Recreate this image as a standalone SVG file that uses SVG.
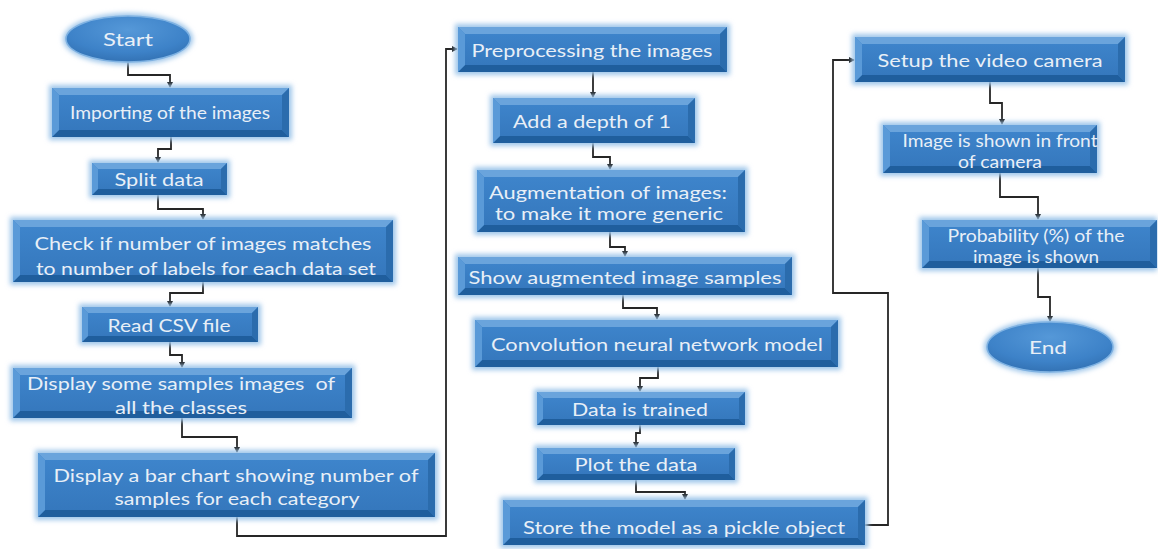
<svg xmlns="http://www.w3.org/2000/svg" width="1158" height="549" viewBox="0 0 1158 549">
<defs>
<style>
.glow{fill:#9fc6ea;filter:url(#blur)}
.face{fill:url(#gface)}
.bt{fill:#6aa4dc}
.bb{fill:#1f5e9d}
.bl{fill:#5a9ad8}
.br{fill:#2b6cad}
.ell{fill:url(#gell);stroke:#7fb2e2;stroke-width:1.5}
.t{font-family:Lato,"Open Sans","Liberation Sans",sans-serif;fill:#e8eff7;text-anchor:middle;font-size:18px}
.conn path{fill:none;stroke:#262626;stroke-width:1.8}
</style>
<filter id="blur" x="-20%" y="-30%" width="140%" height="160%"><feGaussianBlur stdDeviation="2.5"/></filter>
<linearGradient id="gface" x1="0" y1="0" x2="0" y2="1"><stop offset="0" stop-color="#3f86cd"/><stop offset="1" stop-color="#3476bb"/></linearGradient>
<radialGradient id="gell" cx="0.5" cy="0.3" r="0.7"><stop offset="0" stop-color="#5598d8"/><stop offset="0.7" stop-color="#3d82c8"/><stop offset="1" stop-color="#3372b4"/></radialGradient>
<marker id="arr" markerWidth="6" markerHeight="6" refX="5" refY="3" orient="auto" markerUnits="userSpaceOnUse"><path d="M0,0 L6,3 L0,6 z" fill="#1a1a1a"/></marker>
</defs>
<rect width="1158" height="549" fill="#ffffff"/>

<g class="conn" id="connectors">
<path d="M128,62 V75 H170 V87" marker-end="url(#arr)"/>
<path d="M171,137 V149 H158 V162" marker-end="url(#arr)"/>
<path d="M158,195 V209 H203 V219" marker-end="url(#arr)"/>
<path d="M203,282 V293 H170 V306" marker-end="url(#arr)"/>
<path d="M170,342 V355 H182 V367" marker-end="url(#arr)"/>
<path d="M182,418 V437 H237 V452" marker-end="url(#arr)"/>
<path d="M237,517 V536 H446 V49 H457" marker-end="url(#arr)"/>
<path d="M593,72 V97" marker-end="url(#arr)"/>
<path d="M593,143 V157 H610 V169" marker-end="url(#arr)"/>
<path d="M610,232 V247 H625 V256" marker-end="url(#arr)"/>
<path d="M623,295 V308 H657 V319" marker-end="url(#arr)"/>
<path d="M658,367 V378 H640 V391" marker-end="url(#arr)"/>
<path d="M640,425 V433 H636 V447" marker-end="url(#arr)"/>
<path d="M636,480 V492 H685 V499" marker-end="url(#arr)"/>
<path d="M865,525 H888 V293 H833 V60 H854" marker-end="url(#arr)"/>
<path d="M990,82 V103 H1002 V124" marker-end="url(#arr)"/>
<path d="M1000,173 V197 H1038 V219" marker-end="url(#arr)"/>
<path d="M1038,268 V297 H1050 V321" marker-end="url(#arr)"/>
</g>

<g id="start">
<ellipse class="glow" cx="128" cy="39" rx="65" ry="26"/>
<ellipse class="ell" cx="128" cy="39" rx="62" ry="23"/>
<text class="t" x="128" y="46" font-size="20" textLength="50" lengthAdjust="spacingAndGlyphs">Start</text>
</g>

<g id="import">
<rect class="glow" x="49" y="85" width="243" height="55"/>
<rect class="face" x="52" y="88" width="237" height="49"/>
<polygon class="bt" points="52,88 289,88 282,95 59,95"/>
<polygon class="bb" points="52,137 289,137 282,130 59,130"/>
<polygon class="bl" points="52,88 59,95 59,130 52,137"/>
<polygon class="br" points="289,88 282,95 282,130 289,137"/>
<text class="t" x="170" y="119" font-size="17" textLength="200" lengthAdjust="spacingAndGlyphs">Importing of the images</text>
</g>

<g id="split">
<rect class="glow" x="89" y="160" width="141" height="38"/>
<rect class="face" x="92" y="163" width="135" height="32"/>
<polygon class="bt" points="92,163 227,163 221,169 98,169"/>
<polygon class="bb" points="92,195 227,195 221,189 98,189"/>
<polygon class="bl" points="92,163 98,169 98,189 92,195"/>
<polygon class="br" points="227,163 221,169 221,189 227,195"/>
<text class="t" x="159" y="186" font-size="19" textLength="89" lengthAdjust="spacingAndGlyphs">Split data</text>
</g>

<g id="check">
<rect class="glow" x="10" y="217" width="386" height="68"/>
<rect class="face" x="13" y="220" width="380" height="62"/>
<polygon class="bt" points="13,220 393,220 386,227 20,227"/>
<polygon class="bb" points="13,282 393,282 386,275 20,275"/>
<polygon class="bl" points="13,220 20,227 20,275 13,282"/>
<polygon class="br" points="393,220 386,227 386,275 393,282"/>
<text class="t" x="203" y="250" font-size="20" textLength="337" lengthAdjust="spacingAndGlyphs">Check if number of images matches</text>
<text class="t" x="206" y="275" font-size="20" textLength="340" lengthAdjust="spacingAndGlyphs">to number of labels for each data set</text>
</g>

<g id="csv">
<rect class="glow" x="79" y="304" width="182" height="41"/>
<rect class="face" x="82" y="307" width="176" height="35"/>
<polygon class="bt" points="82,307 258,307 252,313 88,313"/>
<polygon class="bb" points="82,342 258,342 252,336 88,336"/>
<polygon class="bl" points="82,307 88,313 88,336 82,342"/>
<polygon class="br" points="258,307 252,313 252,336 258,342"/>
<text class="t" x="169" y="332" font-size="19" textLength="123" lengthAdjust="spacingAndGlyphs">Read CSV file</text>
</g>

<g id="samples">
<rect class="glow" x="10" y="365" width="345" height="56"/>
<rect class="face" x="13" y="368" width="339" height="50"/>
<polygon class="bt" points="13,368 352,368 345,375 20,375"/>
<polygon class="bb" points="13,418 352,418 345,411 20,411"/>
<polygon class="bl" points="13,368 20,375 20,411 13,418"/>
<polygon class="br" points="352,368 345,375 345,411 352,418"/>
<text class="t" x="181" y="390" font-size="19" textLength="308" lengthAdjust="spacingAndGlyphs" xml:space="preserve">Display some samples images  of</text>
<text class="t" x="181" y="414" font-size="19" textLength="132" lengthAdjust="spacingAndGlyphs">all the classes</text>
</g>

<g id="barchart">
<rect class="glow" x="35" y="450" width="403" height="70"/>
<rect class="face" x="38" y="453" width="397" height="64"/>
<polygon class="bt" points="38,453 435,453 428,460 45,460"/>
<polygon class="bb" points="38,517 435,517 428,510 45,510"/>
<polygon class="bl" points="38,453 45,460 45,510 38,517"/>
<polygon class="br" points="435,453 428,460 428,510 435,517"/>
<text class="t" x="236" y="482" font-size="20" textLength="365" lengthAdjust="spacingAndGlyphs">Display a bar chart showing number of</text>
<text class="t" x="237" y="505" font-size="20" textLength="245" lengthAdjust="spacingAndGlyphs">samples for each category</text>
</g>

<g id="preprocess">
<rect class="glow" x="455" y="24" width="275" height="51"/>
<rect class="face" x="458" y="27" width="269" height="45"/>
<polygon class="bt" points="458,27 727,27 720,34 465,34"/>
<polygon class="bb" points="458,72 727,72 720,65 465,65"/>
<polygon class="bl" points="458,27 465,34 465,65 458,72"/>
<polygon class="br" points="727,27 720,34 720,65 727,72"/>
<text class="t" x="592" y="57" font-size="20" textLength="241" lengthAdjust="spacingAndGlyphs">Preprocessing the images</text>
</g>

<g id="depth">
<rect class="glow" x="490" y="95" width="208" height="51"/>
<rect class="face" x="493" y="98" width="202" height="45"/>
<polygon class="bt" points="493,98 695,98 688,105 500,105"/>
<polygon class="bb" points="493,143 695,143 688,136 500,136"/>
<polygon class="bl" points="493,98 500,105 500,136 493,143"/>
<polygon class="br" points="695,98 688,105 688,136 695,143"/>
<text class="t" x="592" y="128" font-size="20" textLength="158" lengthAdjust="spacingAndGlyphs">Add a depth of 1</text>
</g>

<g id="augment">
<rect class="glow" x="474" y="167" width="274" height="68"/>
<rect class="face" x="477" y="170" width="268" height="62"/>
<polygon class="bt" points="477,170 745,170 738,177 484,177"/>
<polygon class="bb" points="477,232 745,232 738,225 484,225"/>
<polygon class="bl" points="477,170 484,177 484,225 477,232"/>
<polygon class="br" points="745,170 738,177 738,225 745,232"/>
<text class="t" x="608" y="199" font-size="20" textLength="238" lengthAdjust="spacingAndGlyphs">Augmentation of images:</text>
<text class="t" x="609" y="220" font-size="20" textLength="228" lengthAdjust="spacingAndGlyphs">to make it more generic</text>
</g>

<g id="showaug">
<rect class="glow" x="455" y="254" width="340" height="44"/>
<rect class="face" x="458" y="257" width="334" height="38"/>
<polygon class="bt" points="458,257 792,257 785,264 465,264"/>
<polygon class="bb" points="458,295 792,295 785,288 465,288"/>
<polygon class="bl" points="458,257 465,264 465,288 458,295"/>
<polygon class="br" points="792,257 785,264 785,288 792,295"/>
<text class="t" x="625" y="284" font-size="20" textLength="313" lengthAdjust="spacingAndGlyphs">Show augmented image samples</text>
</g>

<g id="cnn">
<rect class="glow" x="472" y="317" width="369" height="53"/>
<rect class="face" x="475" y="320" width="363" height="47"/>
<polygon class="bt" points="475,320 838,320 831,327 482,327"/>
<polygon class="bb" points="475,367 838,367 831,360 482,360"/>
<polygon class="bl" points="475,320 482,327 482,360 475,367"/>
<polygon class="br" points="838,320 831,327 831,360 838,367"/>
<text class="t" x="657" y="351" font-size="20" textLength="332" lengthAdjust="spacingAndGlyphs">Convolution neural network model</text>
</g>

<g id="trained">
<rect class="glow" x="534" y="389" width="214" height="39"/>
<rect class="face" x="537" y="392" width="208" height="33"/>
<polygon class="bt" points="537,392 745,392 739,398 543,398"/>
<polygon class="bb" points="537,425 745,425 739,419 543,419"/>
<polygon class="bl" points="537,392 543,398 543,419 537,425"/>
<polygon class="br" points="745,392 739,398 739,419 745,425"/>
<text class="t" x="640" y="416" font-size="20" textLength="136" lengthAdjust="spacingAndGlyphs">Data is trained</text>
</g>

<g id="plot">
<rect class="glow" x="534" y="445" width="204" height="38"/>
<rect class="face" x="537" y="448" width="198" height="32"/>
<polygon class="bt" points="537,448 735,448 729,454 543,454"/>
<polygon class="bb" points="537,480 735,480 729,474 543,474"/>
<polygon class="bl" points="537,448 543,454 543,474 537,480"/>
<polygon class="br" points="735,448 729,454 729,474 735,480"/>
<text class="t" x="636" y="471" font-size="20" textLength="123" lengthAdjust="spacingAndGlyphs">Plot the data</text>
</g>

<g id="store">
<rect class="glow" x="500" y="497" width="368" height="51"/>
<rect class="face" x="503" y="500" width="362" height="45"/>
<polygon class="bt" points="503,500 865,500 858,507 510,507"/>
<polygon class="bb" points="503,545 865,545 858,538 510,538"/>
<polygon class="bl" points="503,500 510,507 510,538 503,545"/>
<polygon class="br" points="865,500 858,507 858,538 865,545"/>
<text class="t" x="684" y="534" font-size="20" textLength="322" lengthAdjust="spacingAndGlyphs">Store the model as a pickle object</text>
</g>

<g id="setup">
<rect class="glow" x="852" y="34" width="276" height="51"/>
<rect class="face" x="855" y="37" width="270" height="45"/>
<polygon class="bt" points="855,37 1125,37 1118,44 862,44"/>
<polygon class="bb" points="855,82 1125,82 1118,75 862,75"/>
<polygon class="bl" points="855,37 862,44 862,75 855,82"/>
<polygon class="br" points="1125,37 1118,44 1118,75 1125,82"/>
<text class="t" x="990" y="67" font-size="19" textLength="225" lengthAdjust="spacingAndGlyphs">Setup the video camera</text>
</g>

<g id="shown">
<rect class="glow" x="880" y="122" width="220" height="54"/>
<rect class="face" x="883" y="125" width="214" height="48"/>
<polygon class="bt" points="883,125 1097,125 1090,132 890,132"/>
<polygon class="bb" points="883,173 1097,173 1090,166 890,166"/>
<polygon class="bl" points="883,125 890,132 890,166 883,173"/>
<polygon class="br" points="1097,125 1090,132 1090,166 1097,173"/>
<text class="t" x="1000" y="147" font-size="17" textLength="195" lengthAdjust="spacingAndGlyphs">Image is shown in front</text>
<text class="t" x="1000" y="168" font-size="17" textLength="84" lengthAdjust="spacingAndGlyphs">of camera</text>
</g>

<g id="probability">
<rect class="glow" x="919" y="217" width="238" height="54"/>
<rect class="face" x="922" y="220" width="235" height="48"/>
<polygon class="bt" points="922,220 1157,220 1150,227 929,227"/>
<polygon class="bb" points="922,268 1157,268 1150,261 929,261"/>
<polygon class="bl" points="922,220 929,227 929,261 922,268"/>
<polygon class="br" points="1157,220 1150,227 1150,261 1157,268"/>
<text class="t" x="1036" y="242" font-size="16" textLength="177" lengthAdjust="spacingAndGlyphs">Probability (%) of the</text>
<text class="t" x="1036" y="263" font-size="16" textLength="126" lengthAdjust="spacingAndGlyphs">image is shown</text>
</g>

<g id="end">
<ellipse class="glow" cx="1050" cy="347" rx="66" ry="28"/>
<ellipse class="ell" cx="1050" cy="347" rx="63" ry="25"/>
<text class="t" x="1048" y="354" font-size="20" textLength="38" lengthAdjust="spacingAndGlyphs">End</text>
</g>
</svg>
